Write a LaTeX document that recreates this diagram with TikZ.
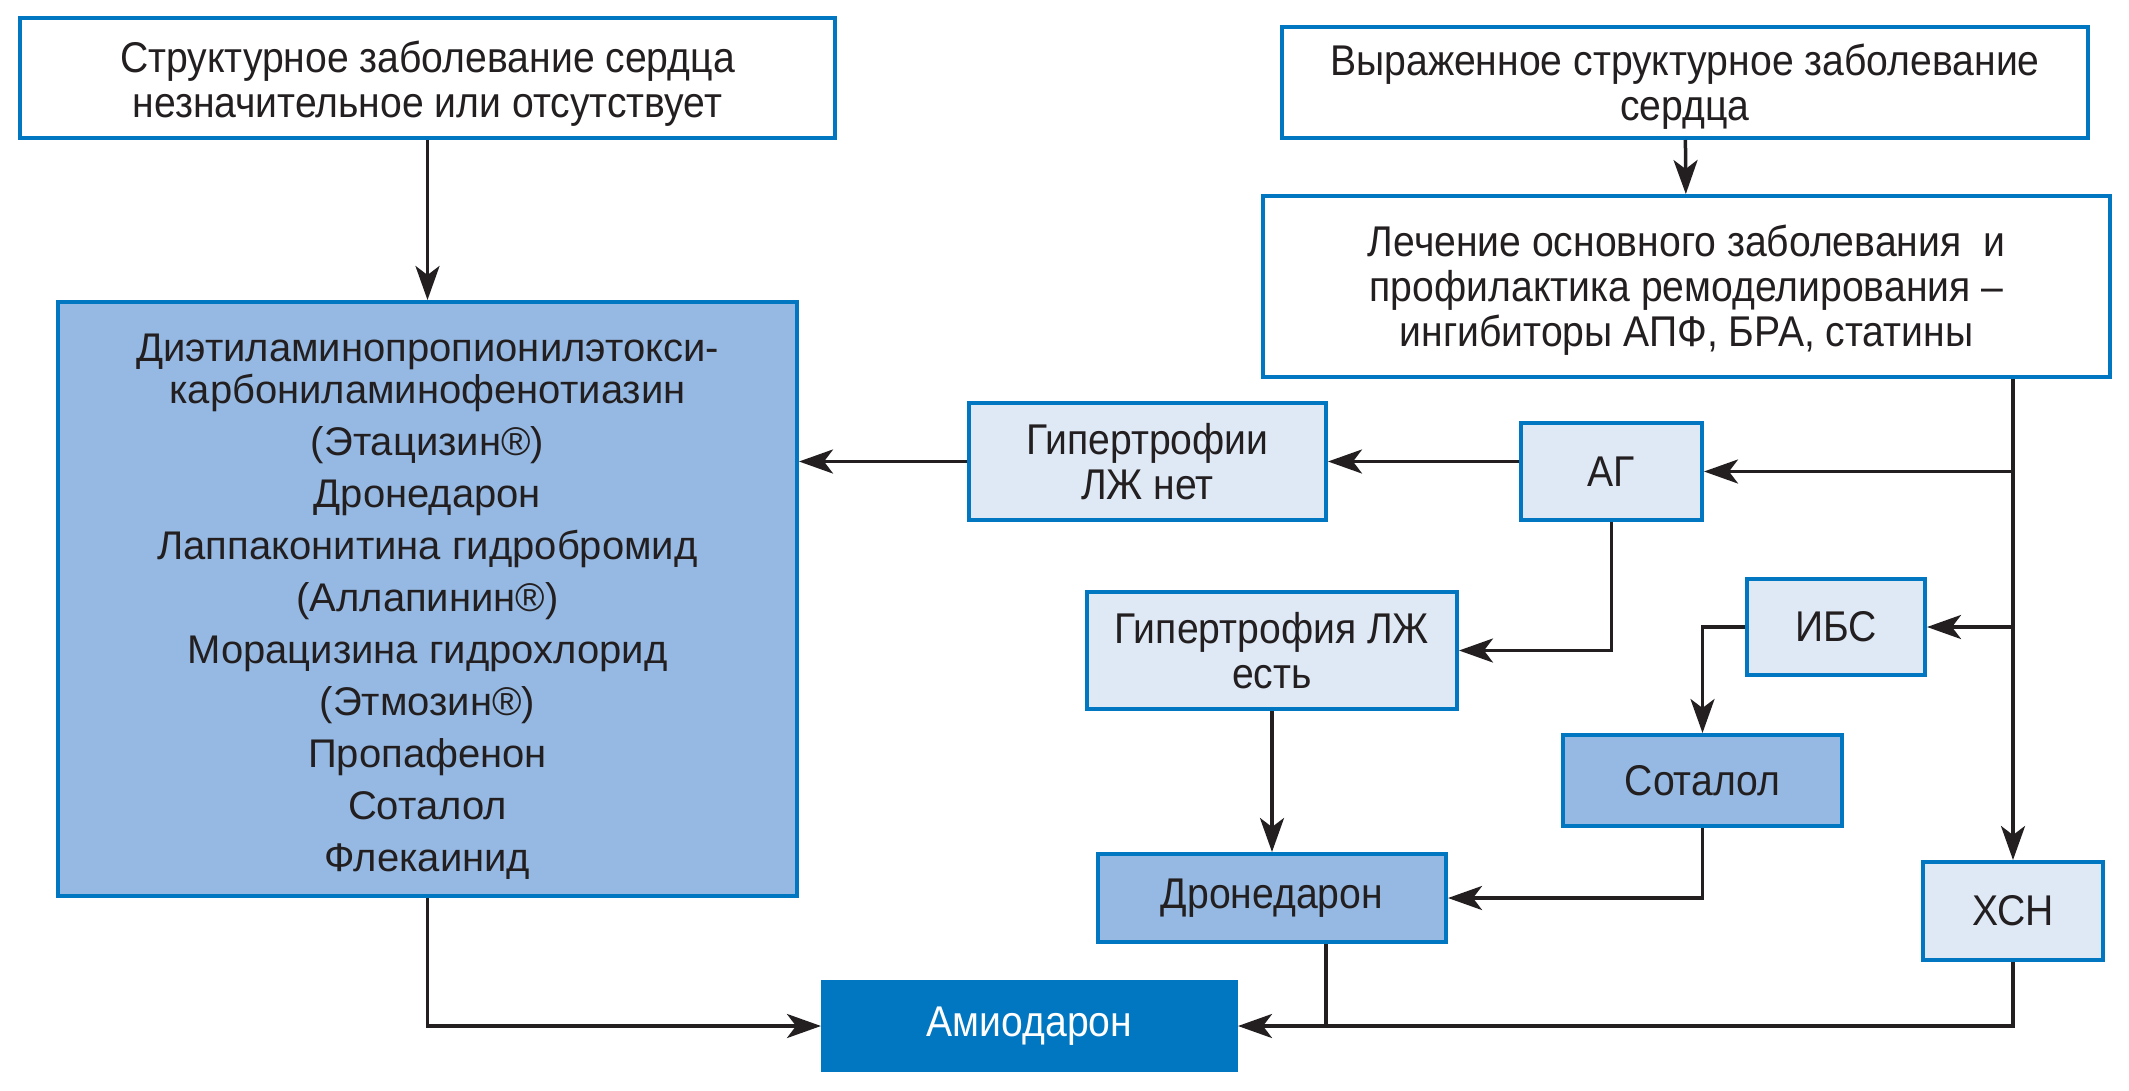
\documentclass[tikz,border=0pt]{standalone}
\usepackage{fontspec}
\setmainfont{Liberation Sans}
\newfontfamily\cond{Liberation Sans}[FakeStretch=0.91]
\usetikzlibrary{arrows.meta}
\definecolor{bord}{RGB}{0,119,192}
\definecolor{lightf}{RGB}{223,233,246}
\definecolor{midf}{RGB}{149,185,226}
\definecolor{ink}{RGB}{35,31,32}
\newcommand\toppad[1]{\rule{0pt}{#1}}
\begin{document}
\begin{tikzpicture}[x=1pt,y=-1pt,
  box/.style={draw=bord, line width=4pt, inner sep=0pt, align=center, text=ink,
    font=\cond\fontsize{43}{45}\selectfont},
  wbox/.style={box, fill=white},
  lbox/.style={box, fill=lightf},
  mbox/.style={box, fill=midf},
  dbox/.style={box, fill=bord, draw=bord, text=white},
  conn/.style={draw=ink, line width=3.5pt},
  arr/.style={conn, -{Stealth[length=34pt,width=24pt,inset=9pt]}}]
\useasboundingbox (0,0) rectangle (2129,1090);
\node[wbox, minimum width=815pt, minimum height=120pt] (b1) at (427.5,78)
  {\toppad{42pt}Структурное заболевание сердца\\незначительное или отсутствует};
\node[wbox, minimum width=806pt, minimum height=111pt] (b2) at (1685,82.5)
  {\toppad{39pt}Выраженное структурное заболевание\\сердца};
\node[wbox, minimum width=847pt, minimum height=181pt] (b3) at (1686.5,286.5)
  {\toppad{38pt}Лечение основного заболевания\ \ и\\профилактика ремоделирования –\\ингибиторы АПФ, БРА, статины};
\node[mbox, minimum width=739pt, minimum height=594pt,
  font=\fontsize{40}{52}\selectfont] (big) at (427.5,599)
  {\toppad{43.4pt}Диэтиламинопропионилэтокси-\\[-10.4pt]карбониламинофенотиазин\\(Этацизин®)\\Дронедарон\\Лаппаконитина гидробромид\\(Аллапинин®)\\Морацизина гидрохлорид\\(Этмозин®)\\Пропафенон\\Соталол\\Флекаинид};
\node[lbox, minimum width=357pt, minimum height=117pt] (noHT) at (1147.5,461.5)
  {Гипертрофии\\ЛЖ нет};
\node[lbox, minimum width=181pt, minimum height=97pt] (AG) at (1611.5,471.5) {АГ};
\node[lbox, minimum width=370pt, minimum height=117pt] (HT) at (1272,650.5)
  {Гипертрофия ЛЖ\\есть};
\node[lbox, minimum width=178pt, minimum height=96pt] (IBS) at (1836,627) {ИБС};
\node[mbox, minimum width=279pt, minimum height=91pt] (Sot) at (1702.5,780.5) {Соталол};
\node[mbox, minimum width=348pt, minimum height=88pt] (Dron) at (1272,898) {Дронедарон};
\node[lbox, minimum width=180pt, minimum height=98pt] (HSN) at (2013,911) {ХСН};
\node[dbox, minimum width=413pt, minimum height=88pt] (Amio) at (1029.5,1026) {Амиодарон};
% connectors
\draw[arr] (b1) -- (big);
\draw[arr] (b2) -- (b3);
\draw[arr] (b3.south -| HSN.north) -- (HSN.north);
\draw[arr] (AG.east -| HSN.north) -- (AG.east);
\draw[arr] (IBS.east -| HSN.north) -- (IBS.east);
\draw[arr] (AG.west |- noHT.east) -- (noHT.east);
\draw[arr] (noHT.west) -- (noHT.west -| big.east);
\draw[arr] (AG.south) |- (HT.east);
\draw[arr] (IBS.west) -| (Sot.north);
\draw[arr] (HT.south) -- (Dron.north);
\draw[arr] (Sot.south) |- (Dron.east);
\draw[conn] ([xshift=54pt]Dron.south) -- ([xshift=54pt]Dron.south |- Amio.east);
\draw[arr] (HSN.south) |- (Amio.east);
\draw[arr] (big.south) |- (Amio.west);
\end{tikzpicture}
\end{document}
